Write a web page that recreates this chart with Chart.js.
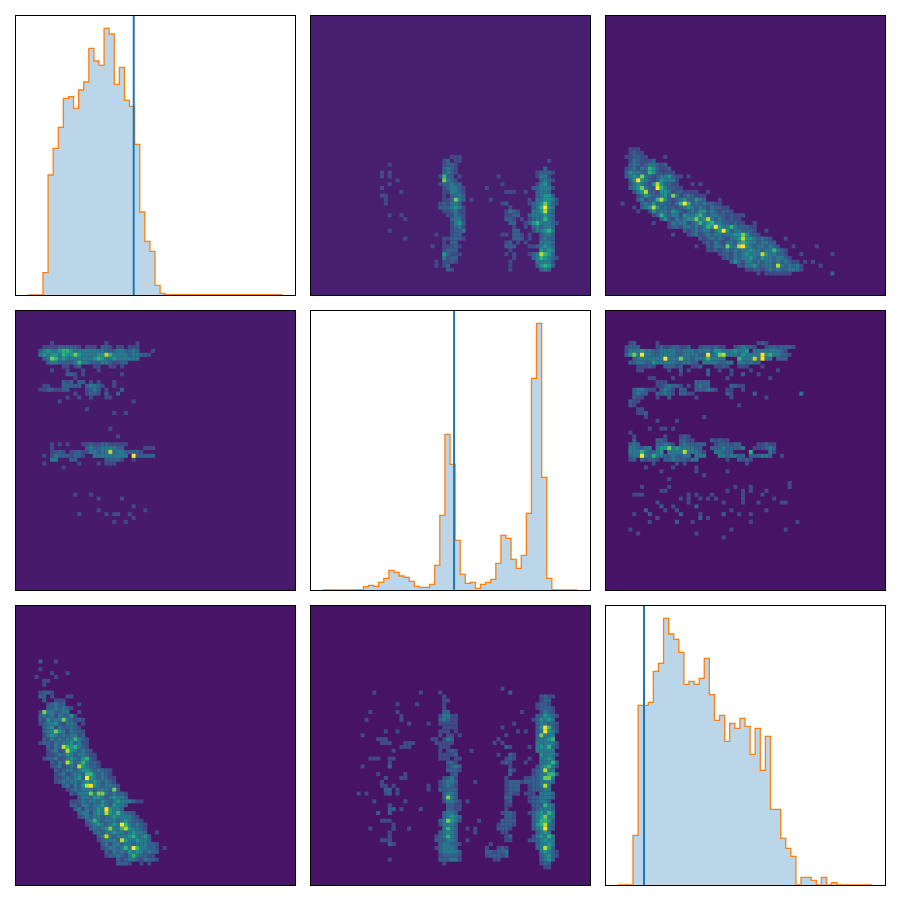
<!DOCTYPE html>
<html><head><meta charset="utf-8">
<script src="https://cdn.jsdelivr.net/npm/chart.js@4"></script>
<style>
html,body{margin:0;padding:0;background:#fff;width:900px;height:900px;overflow:hidden}
.p{position:absolute;width:280px;height:280px;display:block}
.f{position:absolute;width:281px;height:281px;box-sizing:border-box;border:1px solid #000;pointer-events:none}
</style></head><body>
<script>
// histogram counts per bin (50 bins), heights
const histA=[0,0,0,67,360,440,503,590,595,560,615,639,740,702,689,800,783,632,683,584,566,452,249,161,131,29,5,1,1,1,1,1,1,1,1,1,1,1,1,1,1,1,1,1,1,1,1,1,1,1];
const histB=[0,0,0,0,0,0,0,0,10,14,11,23,35,59,53,42,38,26,11,8,8,17,74,224,467,377,149,47,20,23,5,17,23,32,80,164,155,92,65,104,230,635,800,338,35,0,0,0,0,0];
const histC=[0,0,0,149,539,539,548,641,665,800,753,737,698,602,611,602,620,680,571,494,509,431,485,470,500,476,392,470,344,446,227,227,140,110,86,0,23,23,14,0,23,0,7,0,0,0,0,0,0,0];
const truthA=20.82, truthB=25.8, truthC=5.16;
// 2D density cells: "row|col:levels col:levels" on a 70x70 grid, levels 1..8
const heatAB=[
"35|35:111","36|33:12 36:11 60:1","37|19:1 33:1 34:22 36:1","38|33:232 36:1 59:2","39|33:2321 57:12 59:221 17:1 19:1",
"40|32:1 33:5 34:22 37:1 17:1 19:1 47:1 57:1 58:33 60:1","41|33:6 34:321 21:1 58:232 61:1","42|19:1 32:1 33:22 35:3 36:22 48:1 57:1 58:342",
"43|33:12 35:332 38:1 17:1 44:1 56:2 57:23331","44|33:1 34:1 35:332 38:1 22:1 49:111 54:1 57:2332","45|33:1 35:2232 17:11 57:23442","46|33:11263 38:2 18:1 40:1 45:1 55:1 57:334431",
"47|32:1213 36:32 18:1 48:12 55:1 56:2346421","48|32:222 35:343 38:1 50:1 56:235 59:843","49|33:1 34:12311 49:1321 56:33 58:4 59:732","50|34:11 36:321 19:1 22:1 49:1 50:122 55:233 58:3432",
"51|35:233 38:1 23:1 49:22 51:1 53:1 55:12 57:33532","52|35:1342 50:22 54:1 55:2 56:4533321","53|35:1 36:231 51:1 54:1 56:232332","54|19:1 35:1 36:223 38:1 51:22 56:133453",
"55|31:1 35:122 48:11 51:22 53:1 55:1 58:2332","56|23:1 33:11 35:2221 51:222 55:1 58:2322","57|33:1 35:22 49:12 52:1 54:1 58:3332","58|30:1 33:1 34:11 36:21 49:222 55:1 56:123432",
"59|33:1222 50:1 58:4343","60|33:42111 49:1 51:1 55:123 58:7542","61|33:3122 51:1 56:2354321","62|31:1 33:1 34:121 50:1 57:33331","63|31:1 33:12 50:1 57:24542","64|34:21 50:1 58:232"];
const heatAC=[
"33|5:111","34|5:1211","35|4:112211 14:1","36|5:1321112","37|5:2321233212","38|4:123132542112","39|4:2433225421111","40|4:234363212334211 20:1",
"41|5:2484321243331","42|5:1343214742211 21:1 23:1","43|5:23463218532211","44|6:13472214431221111 25:1","45|7:124322342631232111","46|7:2312257421234224 32 28:1",
"47|3:1 8:232423221358523232211","48|6:1 8:23474232212343232132211","49|7:1 10:14233243212324423212 2 1","50|11:12532331433453233221 2111 34:1","51|13:242132344634732321211",
"52|11:1 15:13233123534533221211 37:1","53|15:122133232354843353 22211","54|19:2123233134842332221 40:1","55|16:1 20:1231232332334464221","56|23:212323213347443232 1 45:1","57|24:1213213324543323322",
"58|22:1 25:2133263378432332321 47:1 53:1","59|25:112123232334332335321","60|28:122132343337433221 49:1 57:1","61|29:121323343243323321","62|31:242133232332323211 50:1 52:1",
"63|33:21334223327323231 54:1","64|35:112212323223331","65|38:1 40:11 42:111 45:11 57:2"];
const heatBA=[
"7|8:1 22:1 30:1","8|6:11 8:11222221 17:111 21:221 25:11 28:111","9|5:2343345543333333322233223 2 34:1","10|5:34344354464333344753333233221","11|6:236534333333345433433333 3",
"12|7:233222235332223321122","13|11:11 14:12 19:11 23:11 26:1","14|8:1 12:1 16:1 20:1","15|12:221 16:1 26:1","16|14:1","17|11:212 15:22 18:1 20:1 24:1",
"18|6:11 11:222 14:22 17:23321 24:1","19|5:112211 11:22 17:1232 22:1 26:2","20|14:1 17:1221 22:2 25:2","21|12:1 15:1 18:1 22:11","22|29:1 10:1","24|17:1","25|24:1 27:1","29|23:1","31|25:1",
"33|8:1 10:1 12:1 16:112112211111","34|8:1 17:2322333322 32:111","35|8:1121 13:1221133233723322221","36|6:1013222 13:122100 19:333333 25:333 29:82 31:2222","37|8:33 13:22 22:22221 29:1",
"38|6:1 15:1 20:1 22:111","39|11:1","46|14:1 18:1","47|20:1 26:1","49|29:1","50|20:1 32:1","51|15:1 22:1 24:11 28:1","52|29:1","53|24:1 27:1"];
const heatBC=[
"7|5:12 12:1 38:121","8|4:1222 12:121122112 23:1221211 32:123221 40:12212221","9|4:13334332233332233323 23:2332443334334 37:33 39:3332 42:3321",
"10|4:24638332233332233 21:3322823 6 28:373332433 37:3384533 44:221","11|6:233333338333 6 3 3 22 22:3 23:3353333 33:5333 37:7383 3 43:222 ","12|5:2233224 3 3 3 3 3 2 2 33 22 24:3333 2233 33:3323 2 2",
"13|7:1112 1 14:22212 21:112 27:112 30:1 33:111 39:1","14|7:11 15:1 18:2 20:1 25:2 31:1","15|18:1 25:2 31:1 34:2 38:1","16|10:11","17|12:111 22:2222","18|12:112322 1 20:1 22:2322 31:2211",
"19|6:233211 13:2321 18:22 22:222321 30:11 34:1","20|6:2322 12:22321 18:2211 30:21 37:2 49:3","21|6:211 12:1 15:2 31:1","22|5:211","23|5:21 33:1","24|7:11","25|7:112","29|10:1 13:11 16:1","30|5:1","31|6:1 14:1 18:121",
"32|6:2 12:221 18:2211 26:21211","33|5:232 12:22321 18:2322222 27:1222122 38:11211","34|5:332233 12:34463433 20:3 21:322 26:222322223 37:111232","35|5:3335322 12:34 15:3 3 3 3 7 3 3 3 2 1 27:33222 36:5 41:3 42:1",
"36|5:233832 11:5 12:332232233 22:3 23:33 28:3323322 36:22 38:2332 44:1","37|5:12 8:21221 14:2232221 33 30:1 33:2121","38|11:1 17:1 19:1 35:1","41|24:1",
"43|46:1","44|36:1","45|13:1 34:1 36:1","46|6:1 7:1 20:1 26:1 34:1 39:1","47|20:1 34:1","48|34:1 45:1","49|13:2 22:2","50|9:2 14:1 17:1 31:1","51|6:1 10:2 18:2 23:1 29:2 33:1 36:1","52|23:2 12:1","53|17:2 36:1 48:1","55|5:1 31:1 45:1"];
const speckBC=["39|16:1 22:1 9:1","40|13:1 22:1 30:1","42|15:1","44|8:1 15:1 32:1 46:1","45|14:1 30:1 40:1","46|8:1 22:1","47|18:1 23:1 25:1 27:1 42:1","48|12:1 20:1 29:1 38:1 44:1","49|16:1","50|40:1","52|12:1 25:1","53|10:1 21:1","56|7:1 22:1","57|29:1","14|28:1 36:1 43:1","16|16:1 30:1 41:1","21|22:1 40:1","26|9:1 24:1","27|12:1 17:1"];
const heatCA=[
"13|5:2 9:1","15|5:1","16|12:1 8:1","17|4:1 9:1","18|6:11","19|6:1","21|5:122 8:1","22|5:22 8:1 12:11","23|6:2 9:111","24|7:12322 15:1","25|7:2232321","26|5:16332233 15:1",
"27|5:2323132241","28|5:21423363212 15:11","29|5:1233421332 16:1","30|6:2341322321","31|6:23364313221","32|6:13432323312","33|6:213232335321","34|5:1221323342311",
"35|7:213275453 21","36|7:12312743232 1","37|7:1123243233211","38|6:12231234324521","39|8:2132742353221","40|8:12312327432 21","41|9:212332344323221","42|9:123123325532321",
"43|9:1123234284323211","44|9:1232332343432321","45|11:231324784323321","46|12:12323332333262","47|13:21333636632 3221","48|15:2332443234332","49|13:1123233243234333211","50|13:221332334324332",
"51|14:2313234384332","52|15:233134374353221","53|15:1232332334333321","54|17:235323332343221","55|17:1234323438532321","56|18:232346335743321","57|19:23233433234332",
"58|20:23732333453342","59|20:12333274334332","60|21:231332332333221","61|21:123323538533221","62|22:21323243432322","63|22:12232135322 11","64|25:21233213221","65|25:2221 31:1 33:1","55|32:1","57|30:1 35:1","61|37:1"];
const heatCB=[
"20|48:1","21|27:1 32:1","22|33:1 58:1211","23|33:11 58:122","24|33:1 57:1221","25|33:1 57:12221","26|33:22 58:1321","27|32:13311 57:224321","28|32:23211 57:24343","29|32:1 33:111 36:1 57:233221",
"30|33:1 34:11 36:1 57:248521","31|32:1 33:1 34:1 36:1 57:238431","32|32:1 34:11 37:1 57:26333","33|16:111 30:11 33:132 47:1 57:23345","34|17:111 23:111 31:11111 46:1 48:1 57:333331","35|22:111 32:111 49:21 57:343521",
"36|32:1 34:121 57:33333","37|32:1 33:1 34:1 35:12 47:1 50:21 58:43331","38|14:1 16:1 19:1 32:11 34:1 36:11 49:121 58:3343","39|19:1 34:221 48:121 58:33352","40|19:2 34:1232 50:1 57:134531","41|34:2221 50:21 56:123733",
"42|23:1 35:12 50:2 56:1233552","43|18:1 22:1 33:1231 49:1 54:11223663","44|17:1 32:12332 49:1222 53:122223332","45|17:11 20:1 32:12321 49:1222 55:122373","46|18:22 21:1 32:22222 49:1222 55:122233",
"47|18:12 33:2332 49:1211 54:111 58:3332","48|33:2632 49:22 55:1223332","49|33:13321 49:12 55:122332","50|19:1 34:2211 49:11 56:222532","51|19:22 34:221 49:1 56:123332",
"52|16:2 19:2 33:2332 48:122 51:1 55:1234353","53|33:23432 49:221 56:234633","54|19:1 32:236431 48:2222 56:235542","55|20:1 32:13332 47:12221 56:245732","56|20:1 33:3532 47:2221 56:234832",
"57|32:23332 48:11 57:2343","58|19:1 31:123532 49:12 56:134353","59|18:11 31:222332 49:11 55:1223433","60|19:21 32:233221 45:1 57:23343","61|31:123332 44:1 47:121 57:23742","62|32:233332 44:221223 58:34321",
"63|32:122221 44:122212 58:23421","64|32:222331 46:11 58:2342","65|33:1 58:122","66|59:11"];
const speckCB=["21|15:1 50:2","24|21:1 26:1","26|14:1 21:1 53:1","27|22:1","28|13:1 22:1 56:1","29|24:1 51:1 29:1","30|48:1","31|18:1 21:1 52:1 54:1","32|12:1 49:1","35|55:1","36|20:1 40:1","38|15:1 20:1 55:1","39|54:1","40|12:1 19:1",
"42|16:1","43|18:1 23:1","44|41:1","45|29:1","46|18:1 29:1","47|13:1 11:1 21:1 52:1","48|49:1","49|15:1 23:1 39:1","50|19:1","51|20:1 22:1 27:1 37:1","54|17:1 18:1 42:1","56|14:1 20:1 24:1 39:1 41:1","57|19:1 41:1","59|17:1 19:1 39:1","60|20:1","64|19:1"];
const levelColors=["#3f4a86","#35608d","#29798e","#1f968b","#2fb47c","#6ece58","#b5de2b","#fde725"];

const panels=[
 {k:"h",d:histA,t:truthA,x:15,y:15},{k:"m",d:heatAB,x:310,y:15,bg:"#481f70"},{k:"m",d:heatAC,x:605,y:15,bg:"#47176a"},
 {k:"m",d:heatBA,x:15,y:310,bg:"#481a6c"},{k:"h",d:histB,t:truthB,x:310,y:310},{k:"m",d:heatBC.concat(speckBC),x:605,y:310,bg:"#471365"},
 {k:"m",d:heatCA,x:15,y:605,bg:"#471467"},{k:"m",d:heatCB.concat(speckCB),x:310,y:605,bg:"#471365"},{k:"h",d:histC,t:truthC,x:605,y:605}];

function parseHeat(rows){
  const out=levelColors.map(()=>[]);
  for(const r of rows){
    const [row,rest]=r.split("|");
    let cur=0;
    for(const tok of rest.trim().split(/\s+/)){
      let digits=tok;
      if(tok.includes(":")){const s=tok.split(":");cur=+s[0];digits=s[1];}
      for(const c of digits){const v=+c;if(v>0)out[v-1].push({x:cur+0.5,y:+row+0.5});cur++;}
    }
  }
  return out;
}
const base={responsive:false,animation:false,events:[],devicePixelRatio:1,layout:{padding:0},plugins:{legend:{display:false},tooltip:{enabled:false}}};
for(const p of panels){
  const c=document.createElement("canvas");c.className="p";c.width=280;c.height=280;
  c.style.left=p.x+"px";c.style.top=p.y+"px";c.style.background=p.bg||"#fff";document.body.appendChild(c);
  const f=document.createElement("div");f.className="f";f.style.left=p.x+"px";f.style.top=p.y+"px";document.body.appendChild(f);
  if(p.k==="h"){
    const pts=p.d.map((v,i)=>({x:i,y:v}));pts.push({x:p.d.length,y:p.d[p.d.length-1]});
    new Chart(c,{type:"line",data:{datasets:[
      {data:[{x:p.t,y:0},{x:p.t,y:840}],borderColor:"#1f77b4",borderWidth:2,pointRadius:0,fill:false,order:0},
      {data:pts,stepped:"before",borderColor:"#ff7f0e",borderWidth:1.3,pointRadius:0,fill:"origin",backgroundColor:"rgba(31,119,180,0.3)",order:1}
    ]},options:{...base,scales:{x:{type:"linear",display:false,min:-2.5,max:52.5},y:{display:false,min:0,max:840}}}});
  }else{
    const sets=parseHeat(p.d).map((pts,i)=>({data:pts,pointStyle:"rect",pointRadius:2.84,pointBorderWidth:0,backgroundColor:levelColors[i],borderColor:levelColors[i],showLine:false,order:8-i}));
    new Chart(c,{type:"scatter",data:{datasets:sets},options:{...base,scales:{x:{type:"linear",display:false,min:0,max:70},y:{display:false,reverse:true,min:0,max:70}}}});
  }
}
</script></body></html>
